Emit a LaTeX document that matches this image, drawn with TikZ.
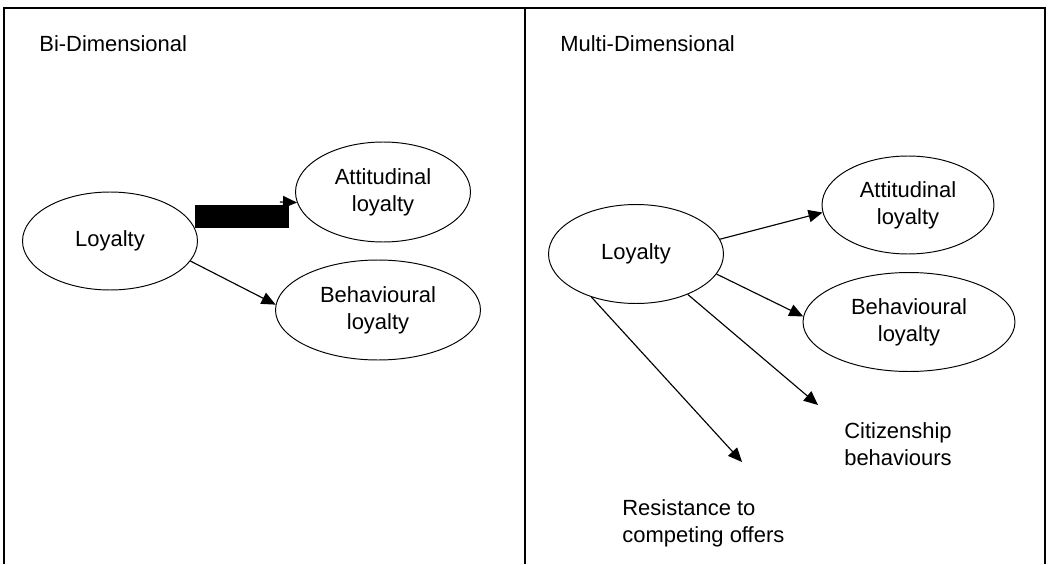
\documentclass[tikz,border=0pt]{standalone}
\usepackage{fontspec}
\setmainfont{Liberation Sans}
\usepackage{tikz}
\usetikzlibrary{shapes.geometric, arrows.meta}
\tikzstyle{arrow} = [line width=0.65pt,-{Triangle[length=8pt,width=7pt]}]

\begin{document}
\begin{tikzpicture}[x=0.02cm, y=-0.02cm,
          every node/.style={font=\fontsize{12.5}{15.3}\selectfont},
          ell/.style={draw, ellipse, line width=0.55pt, inner sep=0pt, align=center, minimum height=2cm},
          lbl/.style={inner sep=0pt}]
  \useasboundingbox (0,0) rectangle (1057,564);
  % frame
  \draw[line width=0.7pt] (4,564) -- (4,8) -- (1045,8) -- (1045,564);
  \draw[line width=0.7pt] (525,8) -- (525,564);

  % bi-dimensional
  \node[lbl, anchor=west] (bititle) at (39,44) {Bi-Dimensional};
  \node[ell, minimum width=3.5cm, minimum height=1.96cm] (ll) at (110,241) {Loyalty};
  \node[ell, minimum width=3.5cm] (al) at (383,192) {Attitudinal\\loyalty};
  \node[ell, minimum width=4.1cm] (bl) at (378,310) {Behavioural\\loyalty};
  \fill ([shift={(-3,-36)}]ll.east) rectangle ([shift={(91,-13)}]ll.east);
  \draw[arrow] ([shift={(82,-39)}]ll.east) -- (al.187);
  \draw[arrow] (ll.-14) -- (bl.177);

  % multi-dimensional
  \node[lbl, anchor=west] (multititle) at (560,44) {Multi-Dimensional};
  \node[ell, minimum width=3.5cm, minimum height=1.98cm] (lr) at (636,254) {Loyalty};
  \node[ell, minimum width=3.44cm, minimum height=1.96cm] (ar) at (908,205) {Attitudinal\\loyalty};
  \node[ell, minimum width=4.24cm, minimum height=1.98cm] (br) at (909,322) {Behavioural\\loyalty};
  \node[lbl, align=center] (cit) at (898,444) {Citizenship\\behaviours};
  \node[lbl, align=left, anchor=west] (res) at (622,523) {Resistance to\\competing offers};
  \coordinate (citend) at (818,405);
  \coordinate (resend) at (742,462);
  \draw[arrow] (lr.10) -- (ar.185);
  \draw[arrow] (lr.-14) -- (br.177);
  \draw[arrow] (lr.-38) -- (citend);
  \draw[arrow] (lr.-136) -- (resend);
\end{tikzpicture}
\end{document}
